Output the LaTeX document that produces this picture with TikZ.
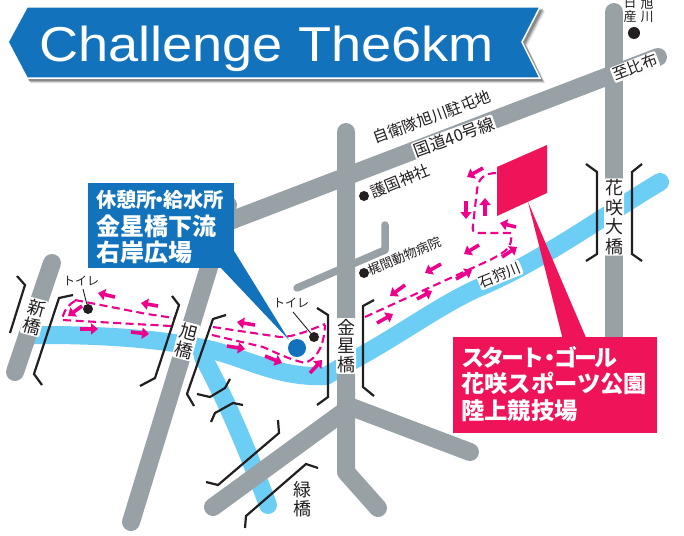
\documentclass[tikz,border=0pt]{standalone}
\usepackage{fontspec}
\usetikzlibrary{arrows.meta}
\setmainfont{Liberation Sans}
\newfontfamily\cjk{Noto Sans CJK JP}
\newfontfamily\cjktight[LetterSpace=-12]{Noto Sans CJK JP}
\definecolor{riverblue}{HTML}{6CCDF5}
\definecolor{roadgray}{HTML}{97A1A6}
\definecolor{bannerblue}{HTML}{1272BB}
\definecolor{startpink}{HTML}{EF1459}
\definecolor{coursepink}{HTML}{EC008C}
\definecolor{inkblack}{HTML}{231F20}
\newcommand{\jsize}[2]{\cjk\fontsize{#1}{#2}\selectfont}
\tikzset{
  river/.style={draw=riverblue,line width=18pt,line cap=round,line join=round},
  road/.style={draw=roadgray,line width=18pt,line cap=round,line join=round},
  thinroad/.style={draw=roadgray,line width=7.5pt,line cap=round,line join=round},
  bracket/.style={draw=inkblack,line width=2.2pt,line join=miter},
  course/.style={draw=coursepink,line width=2.1pt,dash pattern=on 8pt off 4.5pt},
  dir/.style={draw=coursepink,line width=3.6pt,-{Triangle[length=7pt,width=11pt]}},
  spot/.style={circle,fill=inkblack,inner sep=0pt,minimum size=#1},
  lbl/.style={text=inkblack,inner sep=1pt,align=center},
  halo/.style={lbl,fill=white,rounded corners=2pt},
  leader/.style={draw=inkblack,line width=0.9pt},
  boxtext/.style={anchor=west,inner sep=0pt,text=white}
}
\begin{document}
\begin{tikzpicture}[x=1pt,y=-1pt]
\useasboundingbox (0,0) rectangle (684,535);
\fill[white] (0,0) rectangle (684,535);
% rivers
\draw[river] (203,357) .. controls (218,385) and (238,425) .. (268,505);
\draw[river] (32,335) -- (46,335) .. controls (110,335) and (170,340) .. (212,350)
  .. controls (250,360) and (280,378) .. (326,376)
  -- (350,362) .. controls (400,335) and (440,305) .. (478,288)
  .. controls (540,262) and (600,218) .. (660,182);
% roads
\draw[road] (614,12) -- (614,345);
\draw[road] (658,57) -- (222,224);
\draw[thinroad] (385,225) -- (385,250) -- (297,288);
\draw[road] (346,132) -- (346,472) -- (378,508);
\draw[road] (346,405) -- (470,452);
\draw[road] (346,410) -- (213,507);
\draw[road] (228,205) -- (131,522);
\draw[road] (52,263) -- (15,372);
% course dashes
\draw[course] (75,300) -- (147,314) -- (174,318);
\draw[course] (75,301) .. controls (68,305) and (64,310) .. (62,320) -- (171,326);
\draw[course] (213,327) -- (280,337) .. controls (295,337) and (310,330) .. (325,324);
\draw[course] (212,335) -- (263,347) .. controls (275,352) and (285,358) .. (305,363)
  .. controls (318,358) and (324,345) .. (325,325);
\draw[course] (365,317) -- (490,260) .. controls (505,252) and (513,248) .. (511,233)
  -- (478,233) .. controls (473,233) and (472,230) .. (473,225)
  -- (477,190) .. controls (478,178) and (485,173) .. (497,173);
% arrows
\foreach \ax/\ay/\bx/\by in {115/297/98/293,158/306/141/303,82/306/68/316,80/329/98/329,131/332/149/334,
  255/325/237/322,227/346/245/349,265/356/282/363,310/373/322/360,
  377/323/393/314,405/285/390/296,417/299/432/291,441/264/425/273,456/279/472/270,
  479/245/464/254,502/257/517/247,516/227/500/223,485/216/485/198,466/201/466/219,483/168/467/177}
  \draw[dir] (\ax,\ay) -- (\bx,\by);
% brackets
\draw[bracket] (17,276) -- (25,285) -- (10,333);
\draw[bracket] (73,295) -- (59,298) -- (34,374) -- (42,385);
\draw[bracket] (172,296) -- (179,305) -- (155,378) -- (140,386);
\draw[bracket] (226,315) -- (213,319) -- (187,394) -- (194,406);
\draw[bracket] (197,394) -- (210,397) -- (225,388) -- (230,379);
\draw[bracket] (243,405) -- (233,403) -- (215,413) -- (211,422);
\draw[bracket] (278,420) -- (279,433) -- (218,485) -- (206,482);
\draw[bracket] (318,468) -- (306,464) -- (246,516) -- (245,528);
\draw[bracket] (317,308) -- (328,315) -- (328,397) -- (317,405);
\draw[bracket] (374,300) -- (363,306) -- (363,387) -- (374,396);
\draw[bracket] (586,164) -- (597,172) -- (597,254) -- (586,261);
\draw[bracket] (642,164) -- (632,172) -- (632,254) -- (642,261);
% start area and pointer
\fill[startpink] (497,167) -- (547,145) -- (547,193) -- (497,216) -- cycle;
\fill[startpink] (528,202) -- (563,340) -- (587,340) -- cycle;
\fill[startpink] (453,337) rectangle (657,433);
\node[boxtext] (startA) at (461,357) {\cjktight\fontsize{23}{24}\selectfont\bfseries スタート\kern-0.3em ・\kern-0.3em ゴール};
\node[boxtext] (startB) at (461,383) {\jsize{23.3}{24}\bfseries 花咲スポーツ公園};
\node[boxtext] (startC) at (461,411) {\jsize{23.3}{24}\bfseries 陸上競技場};
% rest area box
\fill[bannerblue] (220,267) -- (231,246) -- (289,340) -- cycle;
\fill[bannerblue] (88,183) rectangle (234,268);
\node[boxtext] (restA) at (96,200) {\jsize{20.3}{24}\bfseries 休憩所\kern-0.35em ・\kern-0.35em 給水所};
\node[boxtext] (restB) at (96,226) {\jsize{24}{25}\bfseries 金星橋下流};
\node[boxtext] (restC) at (96,252) {\jsize{24}{25}\bfseries 右岸広場};
\node[circle,fill=bannerblue,inner sep=0pt,minimum size=18pt] (restdot) at (297,348) {};
% toilets
\node[spot=10pt] (toiletL) at (88,309) {};
\node[lbl] (toiletLt) at (81,281) {\jsize{12}{13}トイレ};
\draw[leader] (83,289) -- (toiletL);
\node[spot=10pt] (toiletR) at (314,337) {};
\node[lbl] (toiletRt) at (291,303) {\jsize{12}{13}トイレ};
\draw[leader] (293,312) -- (toiletR);
% landmarks
\node[halo,rotate=22] (gokokut) at (400,181) {\jsize{15.5}{16}護国神社};
\node[spot=10pt] (gokoku) at (364,196) {};
\node[halo,rotate=22] (kajimat) at (405,256) {\jsize{13}{14}梶間動物病院};
\node[spot=10pt] (kajima) at (364,273) {};
\node[spot=12pt] (sanyo) at (634,33) {};
\node[lbl,font=\jsize{13}{13.5}] (sanyoA) at (630,10) {日\\産};
\node[lbl,font=\jsize{13}{13.5}] (sanyoB) at (647,10) {旭\\川};
% road and river names
\node[halo,rotate=21] (hippu) at (635,67) {\jsize{15.5}{17}至比布};
\node[halo,rotate=20] (route) at (454,137) {\jsize{16.5}{17}国道40号線};
\node[lbl,rotate=20] (camp) at (432,117) {\jsize{15.5}{16}自衛隊旭川駐屯地};
\node[halo,rotate=22] (ishikari) at (500,275) {\jsize{14.5}{16}石狩川};
% bridge names
\node[halo,rotate=-15,font=\jsize{18}{19}] (shin) at (34,317) {新\\橋};
\node[halo,rotate=-15,font=\jsize{18}{19}] (asahi) at (186,341) {旭\\橋};
\node[halo,font=\jsize{18}{18.5}] (kinsei) at (346,346) {金\\星\\橋};
\node[lbl,font=\jsize{18}{19}] (midori) at (302,499) {緑\\橋};
\node[halo,font=\jsize{18}{19.5}] (hanasaki) at (614,217) {花\\咲\\大\\橋};
% banner
\foreach \o/\s in {4/12,3/18,2/25}
  \fill[black,opacity=\s/100] (8+\o,42+\o) -- (27+\o,7+\o) -- (541+\o,7+\o) -- (523+\o,42+\o) -- (541+\o,79+\o) -- (27+\o,79+\o) -- cycle;
\fill[bannerblue,draw=white,line width=1.5pt] (8,42) -- (27,7) -- (540,7) -- (522,42) -- (540,78) -- (27,78) -- cycle;
\node[text=white,anchor=base,inner sep=0pt] (title) at (266.5,61) {\scalebox{1.105}[1]{\fontsize{49}{50}\selectfont Challenge The6km}};
\end{tikzpicture}
\end{document}
